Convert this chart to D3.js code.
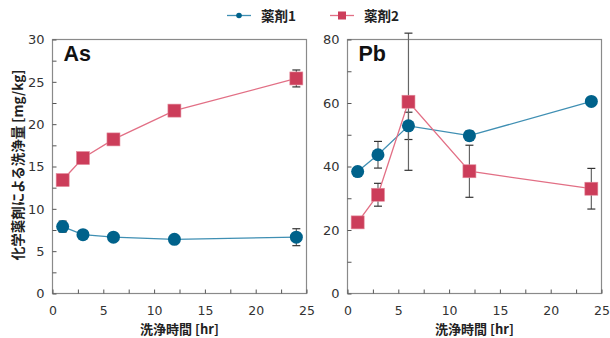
<!DOCTYPE html>
<html><head><meta charset="utf-8">
<script src="https://cdn.jsdelivr.net/npm/d3@7"></script>
<style>body{margin:0;background:#fff}svg{display:block}</style>
</head><body>
<script>
const times = [1, 3, 6, 12, 24];
const seriesNames = ["薬剤1", "薬剤2"];
const asDrug1 = [7.9, 6.95, 6.65, 6.4, 6.65];
const asDrug1Err = [0.65, 0, 0, 0, 1.0];
const asDrug2 = [13.4, 16.0, 18.2, 21.6, 25.4];
const asDrug2Err = [0, 0, 0, 0, 1.0];
const pbDrug1 = [38.4, 43.7, 52.8, 49.7, 60.5];
const pbDrug1Err = [0, 4.2, 4.3, 1.5, 0];
const pbDrug2 = [22.4, 31.1, 60.4, 38.5, 33.0];
const pbDrug2Err = [0, 3.6, 21.6, 8.2, 6.4];
const xTicks = [0, 5, 10, 15, 20, 25];
const asTicks = [0, 5, 10, 15, 20, 25, 30];
const pbTicks = [0, 20, 40, 60, 80];
const xTitle = "洗浄時間 [hr]";
const yTitle = "化学薬剤による洗浄量 [mg/kg]";

const W = 610, H = 338;
const blue = "#00628b", blueLine = "#3f8fb3";
const red = "#cc3d5a", redLine = "#e26f85";
const tickFont = "DejaVu Sans, Verdana, sans-serif";
const cjkFont = "'Noto Sans CJK JP', sans-serif";

const svg = d3.select("body").append("svg").attr("width", W).attr("height", H);

const panels = [
  {label: "As", x0: 52.5, x1: 306.5, yMax: 30, ticks: asTicks, minor: 2.5,
   s: [[asDrug1, asDrug1Err], [asDrug2, asDrug2Err]]},
  {label: "Pb", x0: 347.5, x1: 601.5, yMax: 80, ticks: pbTicks, minor: 10,
   s: [[pbDrug1, pbDrug1Err], [pbDrug2, pbDrug2Err]]}
];
const yTop = 39.5, yBot = 293.5;

panels.forEach(p => {
  const x = d3.scaleLinear().domain([0, 25]).range([p.x0, p.x1]);
  const y = d3.scaleLinear().domain([0, p.yMax]).range([yBot, yTop]);
  const g = svg.append("g");

  g.append("rect").attr("x", p.x0).attr("y", yTop).attr("width", p.x1 - p.x0).attr("height", yBot - yTop)
    .attr("fill", "none").attr("stroke", "#8a8a8a").attr("stroke-width", 1.2);

  const xMinor = d3.range(0, 25.01, 2.5);
  const xa = g.append("g").attr("transform", `translate(0,${yBot})`)
    .call(d3.axisBottom(x).tickValues(xMinor).tickSize(-4).tickFormat(v => xTicks.includes(v) ? v : ""));
  xa.select(".domain").remove();
  xa.selectAll(".tick line").attr("stroke", "#555");
  xa.selectAll(".tick text").attr("dy", null).attr("y", 21.5).attr("font-family", tickFont).attr("font-size", 12.5).attr("fill", "#333");

  const yMinor = d3.range(0, p.yMax + 0.01, p.minor);
  const ya = g.append("g").attr("transform", `translate(${p.x0},0)`)
    .call(d3.axisLeft(y).tickValues(yMinor).tickSize(-4).tickFormat(v => p.ticks.includes(v) ? v : ""));
  ya.select(".domain").remove();
  ya.selectAll(".tick line").attr("stroke", "#555");
  ya.selectAll(".tick text").attr("x", -8).attr("font-family", tickFont).attr("font-size", 13).attr("fill", "#333");

  g.append("text").attr("x", p.x0 + 11).attr("y", 61).text(p.label)
    .attr("font-family", "Liberation Sans, Arial, sans-serif").attr("font-weight", "bold").attr("font-size", 21.5).attr("fill", "#111");

  g.append("text").attr("x", (p.x0 + p.x1) / 2).attr("y", 333.5).attr("text-anchor", "middle").text(xTitle)
    .attr("font-family", cjkFont).attr("font-weight", "bold").attr("font-size", 13).attr("fill", "#222");

  p.s.forEach(([vals, errs]) => {
    times.forEach((t, i) => {
      if (!errs[i]) return;
      const cx = x(t), yh = y(vals[i] + errs[i]), yl = y(vals[i] - errs[i]);
      g.append("line").attr("x1", cx).attr("x2", cx).attr("y1", yh).attr("y2", yl).attr("stroke", "#666").attr("stroke-width", 1.2);
      [yh, yl].forEach(yy => g.append("line").attr("x1", cx - 4).attr("x2", cx + 4).attr("y1", yy).attr("y2", yy).attr("stroke", "#333").attr("stroke-width", 1.2));
    });
  });

  const line = d3.line().x((d, i) => x(times[i])).y(d => y(d));
  g.append("path").attr("d", line(p.s[0][0])).attr("fill", "none").attr("stroke", blueLine).attr("stroke-width", 1.3);
  g.selectAll(null).data(p.s[0][0]).join("circle").attr("cx", (d, i) => x(times[i])).attr("cy", d => y(d)).attr("r", 6.5).attr("fill", blue);
  g.append("path").attr("d", line(p.s[1][0])).attr("fill", "none").attr("stroke", redLine).attr("stroke-width", 1.3);
  g.selectAll(null).data(p.s[1][0]).join("rect").attr("x", (d, i) => x(times[i]) - 6.5).attr("y", d => y(d) - 6.5)
    .attr("width", 13).attr("height", 13).attr("fill", red).attr("stroke", "#e38a9b").attr("stroke-width", 0.6);
});

svg.append("text").attr("transform", "translate(23,165) rotate(-90)").attr("text-anchor", "middle").text(yTitle)
  .attr("font-family", cjkFont).attr("font-weight", "bold").attr("font-size", 13.5).attr("fill", "#222");

const lg = svg.append("g");
lg.append("line").attr("x1", 227).attr("x2", 251).attr("y1", 15.5).attr("y2", 15.5).attr("stroke", blueLine).attr("stroke-width", 1.3);
lg.append("circle").attr("cx", 239).attr("cy", 15.5).attr("r", 2.8).attr("fill", blue);
lg.append("text").attr("x", 261).attr("y", 20.5).text(seriesNames[0]).attr("font-family", cjkFont).attr("font-weight", "bold").attr("font-size", 13.5).attr("fill", "#222");
lg.append("line").attr("x1", 330).attr("x2", 354).attr("y1", 15.5).attr("y2", 15.5).attr("stroke", redLine).attr("stroke-width", 1.3);
lg.append("rect").attr("x", 338).attr("y", 11.5).attr("width", 8).attr("height", 8).attr("fill", red);
lg.append("text").attr("x", 364).attr("y", 20.5).text(seriesNames[1]).attr("font-family", cjkFont).attr("font-weight", "bold").attr("font-size", 13.5).attr("fill", "#222");
</script>
</body></html>
